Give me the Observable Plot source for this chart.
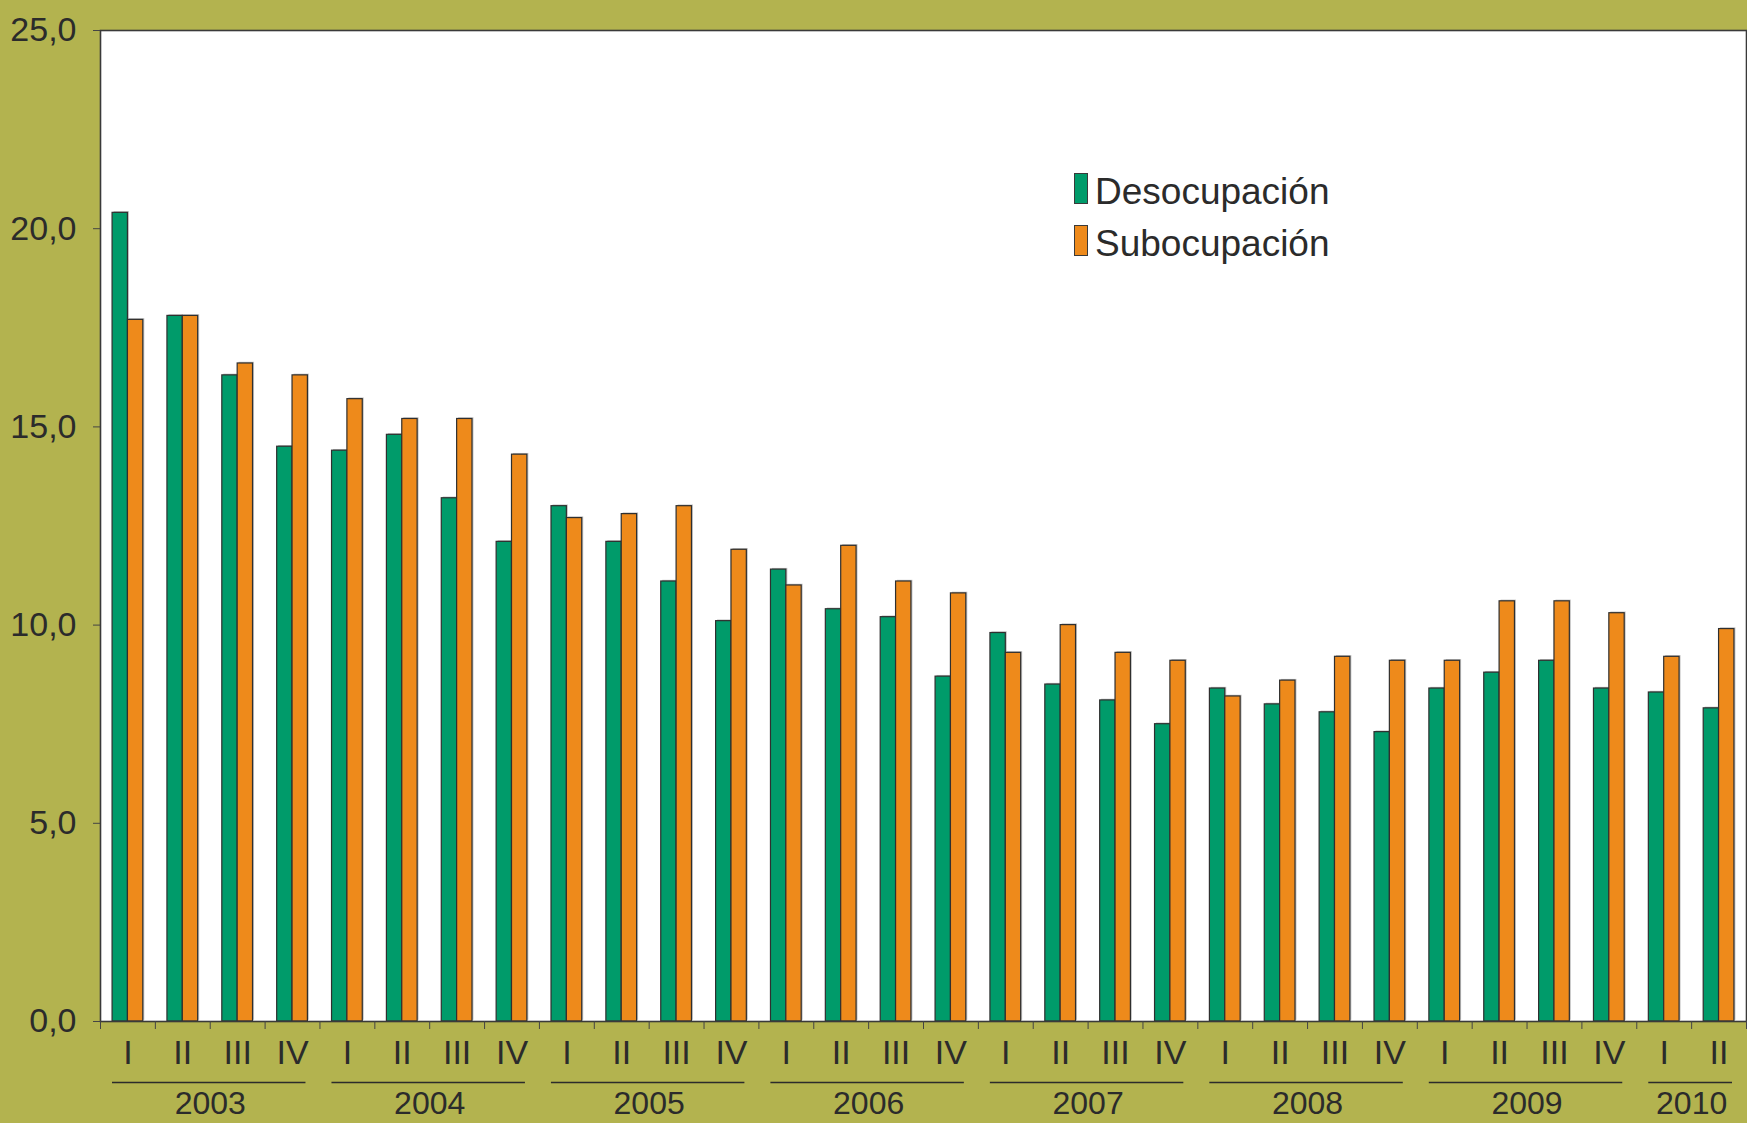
<!DOCTYPE html>
<html>
<head>
<meta charset="utf-8">
<script src="https://cdn.jsdelivr.net/npm/d3@7"></script>
<script src="https://cdn.jsdelivr.net/npm/@observablehq/plot@0.6"></script>
<style>
  html, body { margin: 0; padding: 0; background: #b3b34f; }
  #wrap { position: relative; width: 1747px; height: 1123px; overflow: hidden; }
  #legend { position: absolute; left: 1074px; top: 166px; font-family: "Liberation Sans", Arial, sans-serif; font-size: 37px; line-height: 52px; color: #2b2b2b; white-space: nowrap; }
  .sw { display: inline-block; width: 12px; height: 29px; border: 1px solid #3a3a3a; margin-right: 7px; }
</style>
</head>
<body>
<div id="wrap"><div id="legend"></div></div>
<script>
const years = ["2003","2004","2005","2006","2007","2008","2009","2010"];
const quarters = ["I","II","III","IV"];
const quartersPerYear = [4,4,4,4,4,4,4,2];
const seriesNames = ["Desocupación","Subocupación"];
const seriesColors = ["#009b6a","#ee8a1b"];
const desocupacion = [20.4,17.8,16.3,14.5, 14.4,14.8,13.2,12.1, 13.0,12.1,11.1,10.1, 11.4,10.4,10.2,8.7, 9.8,8.5,8.1,7.5, 8.4,8.0,7.8,7.3, 8.4,8.8,9.1,8.4, 8.3,7.9];
const subocupacion = [17.7,17.8,16.6,16.3, 15.7,15.2,15.2,14.3, 12.7,12.8,13.0,11.9, 11.0,12.0,11.1,10.8, 9.3,10.0,9.3,9.1, 8.2,8.6,9.2,9.1, 9.1,10.6,10.6,10.3, 9.2,9.9];
const yTicks = [0,5,10,15,20,25];

// categories
const cats = [];
years.forEach((y, i) => { for (let q = 0; q < quartersPerYear[i]; q++) cats.push(y + "-" + quarters[q]); });
const rows = cats.map((c, i) => ({cat: c, d: desocupacion[i], s: subocupacion[i]}));
const yearRows = years.map((y, i) => {
  const list = cats.filter(c => c.startsWith(y + "-"));
  return {year: y, first: list[0], last: list[list.length - 1], mid: list[Math.floor((list.length - 1) / 2)]};
});

const W = 1747, H = 1123;
const mL = 100, mR = 1, mT = 30, mB = 102;
const step = (W - mL - mR) / cats.length;
const pair = 0.56 * step;
const gap = (step - pair) / 2;
const font = "Liberation Sans, Arial, sans-serif";
const ink = "#2b2b2b";

const chart = Plot.plot({
  width: W, height: H,
  marginLeft: mL, marginRight: mR, marginTop: mT, marginBottom: mB,
  style: {background: "transparent", fontFamily: font, color: ink, overflow: "visible"},
  x: {type: "band", domain: cats, padding: 0, round: false, axis: null},
  y: {domain: [0, 25], axis: null},
  marks: [
    Plot.frame({fill: "white"}),
    // faint drop shadow
    Plot.barY(rows, {x: "cat", y: "d", fill: "#9a9a9a", fillOpacity: 0.6, dx: 1.5, dy: -1.2, insetLeft: gap, insetRight: step - gap - pair / 2}),
    Plot.barY(rows, {x: "cat", y: "s", fill: "#9a9a9a", fillOpacity: 0.6, dx: 1.5, dy: -1.2, insetLeft: gap + pair / 2, insetRight: gap}),
    Plot.barY(rows, {x: "cat", y: "d", fill: seriesColors[0], stroke: "#2f2f2f", strokeWidth: 1.2, insetLeft: gap, insetRight: step - gap - pair / 2}),
    Plot.barY(rows, {x: "cat", y: "s", fill: seriesColors[1], stroke: "#2f2f2f", strokeWidth: 1.2, insetLeft: gap + pair / 2, insetRight: gap}),
    Plot.frame({stroke: "#3a3a3a", strokeWidth: 1.6}),
    Plot.axisY({ticks: yTicks, tickSize: 7, tickPadding: 17, fontSize: 34, stroke: "#444",
      tickFormat: d => d.toFixed(1).replace(".", ",")}),
    Plot.axisX({ticks: cats, tickSize: 8, tickFormat: () => "", dx: -step / 2, stroke: "#444"}),
    Plot.axisX({ticks: [cats[cats.length - 1]], tickSize: 8, tickFormat: () => "", dx: step / 2, stroke: "#444"}),
    Plot.text(cats, {x: d => d, text: d => d.split("-")[1], frameAnchor: "bottom", lineAnchor: "middle", dy: 32, fontSize: 34, fill: ink}),
    Plot.ruleY(yearRows, {y: 0, x1: "first", x2: "last", dy: 61, insetLeft: 12, insetRight: 14, stroke: ink, strokeWidth: 1.3}),
    Plot.text(yearRows, {x: "mid", text: "year", frameAnchor: "bottom", lineAnchor: "middle", dx: step / 2, dy: 82, fontSize: 32, fill: ink})
  ]
});
document.getElementById("wrap").prepend(chart);

const legend = document.getElementById("legend");
seriesNames.forEach((n, i) => {
  const row = document.createElement("div");
  const sw = document.createElement("span");
  sw.className = "sw";
  sw.style.background = seriesColors[i];
  row.appendChild(sw);
  row.appendChild(document.createTextNode(n));
  legend.appendChild(row);
});
</script>
</body>
</html>
